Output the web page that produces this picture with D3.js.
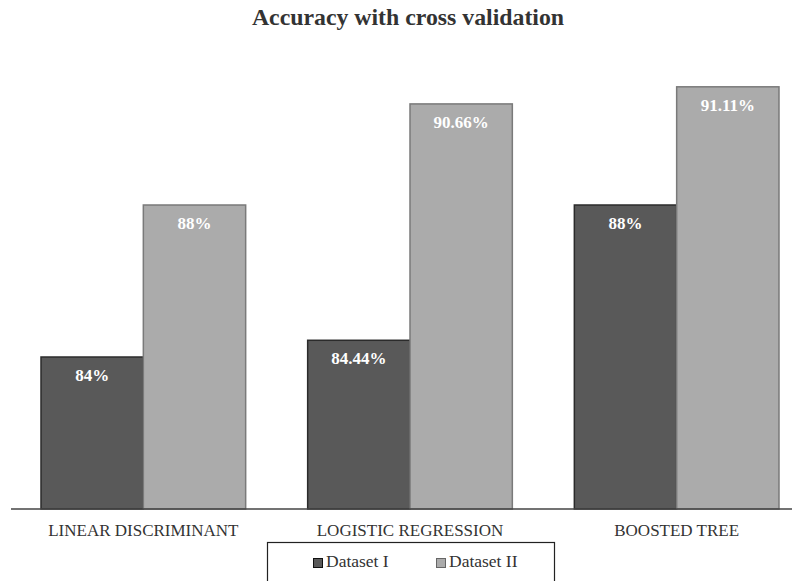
<!DOCTYPE html>
<html><head><meta charset="utf-8">
<script src="https://cdn.jsdelivr.net/npm/d3@7"></script>
<style>html,body{margin:0;padding:0;background:#fff;overflow:hidden}</style>
</head><body>
<svg id="c" width="792" height="581"></svg>
<script>
const categories = ["LINEAR DISCRIMINANT", "LOGISTIC REGRESSION", "BOOSTED TREE"];
const seriesNames = ["Dataset I", "Dataset II"];
const dataset1 = [84, 84.44, 88];
const dataset2 = [88, 90.66, 91.11];
const valueLabels1 = ["84%", "84.44%", "88%"];
const valueLabels2 = ["88%", "90.66%", "91.11%"];
const title = "Accuracy with cross validation";

const fills = ["#595959", "#ababab"];
const strokes = ["#2b2b2b", "#7a7a7a"];
const font = "'Liberation Serif','Times New Roman',serif";

const svg = d3.select("#c");
const x0 = d3.scaleBand().domain(categories).range([10, 810]).paddingInner(0).paddingOuter(0);
const x1 = d3.scaleBand().domain(seriesNames).range([31, x0.bandwidth() - 31]).paddingInner(0).paddingOuter(0);
const y = d3.scaleLinear().domain([80, 92]).range([509, 53]);

const rows = categories.map((c, i) => ({cat: c, vals: [
  {s: seriesNames[0], v: dataset1[i], lab: valueLabels1[i], k: 0},
  {s: seriesNames[1], v: dataset2[i], lab: valueLabels2[i], k: 1}
]}));

function txt(sel, x, yy, size, weight, fill, t, anchor) {
  sel.append("text")
    .attr("x", x).attr("y", yy)
    .attr("text-anchor", anchor || "middle")
    .attr("font-family", font).attr("font-size", size).attr("font-weight", weight)
    .attr("fill", fill).text(t);
}

// title
txt(svg, 408, 25, 23.8, "bold", "#333", title);

const g = svg.selectAll("g.grp").data(rows).enter().append("g")
  .attr("transform", d => `translate(${x0(d.cat)},0)`);
g.selectAll("rect").data(d => d.vals).enter().append("rect")
  .attr("x", d => x1(d.s)).attr("width", x1.bandwidth())
  .attr("y", d => y(d.v)).attr("height", d => y(80) - y(d.v))
  .attr("fill", d => fills[d.k]).attr("stroke", d => strokes[d.k]).attr("stroke-width", 1.5);
g.each(function(d) {
  const gg = d3.select(this);
  d.vals.forEach(v => txt(gg, x1(v.s) + x1.bandwidth() / 2, y(v.v) + 24, 17, "bold", "#fff", v.lab));
});

// axis line
svg.append("line").attr("x1", 11).attr("x2", 792).attr("y1", y(80)).attr("y2", y(80))
  .attr("stroke", "#444").attr("stroke-width", 1.5);

// category labels
categories.forEach(c => txt(svg, x0(c) + x0.bandwidth() / 2, 536, 17, "normal", "#333", c));

// legend
svg.append("rect").attr("x", 267.5).attr("y", 542.5).attr("width", 287).attr("height", 60)
  .attr("fill", "#fff").attr("stroke", "#222").attr("stroke-width", 1.2);
const legX = [313, 436];
seriesNames.forEach((s, i) => {
  svg.append("rect").attr("x", legX[i] + 0.5).attr("y", 558.5).attr("width", 9).attr("height", 9)
    .attr("fill", fills[i]).attr("stroke", i === 0 ? "#111" : "#666").attr("stroke-width", 1);
  txt(svg, legX[i] + 13, 567, 17.5, "normal", "#333", s, "start");
});
</script>
</body></html>
